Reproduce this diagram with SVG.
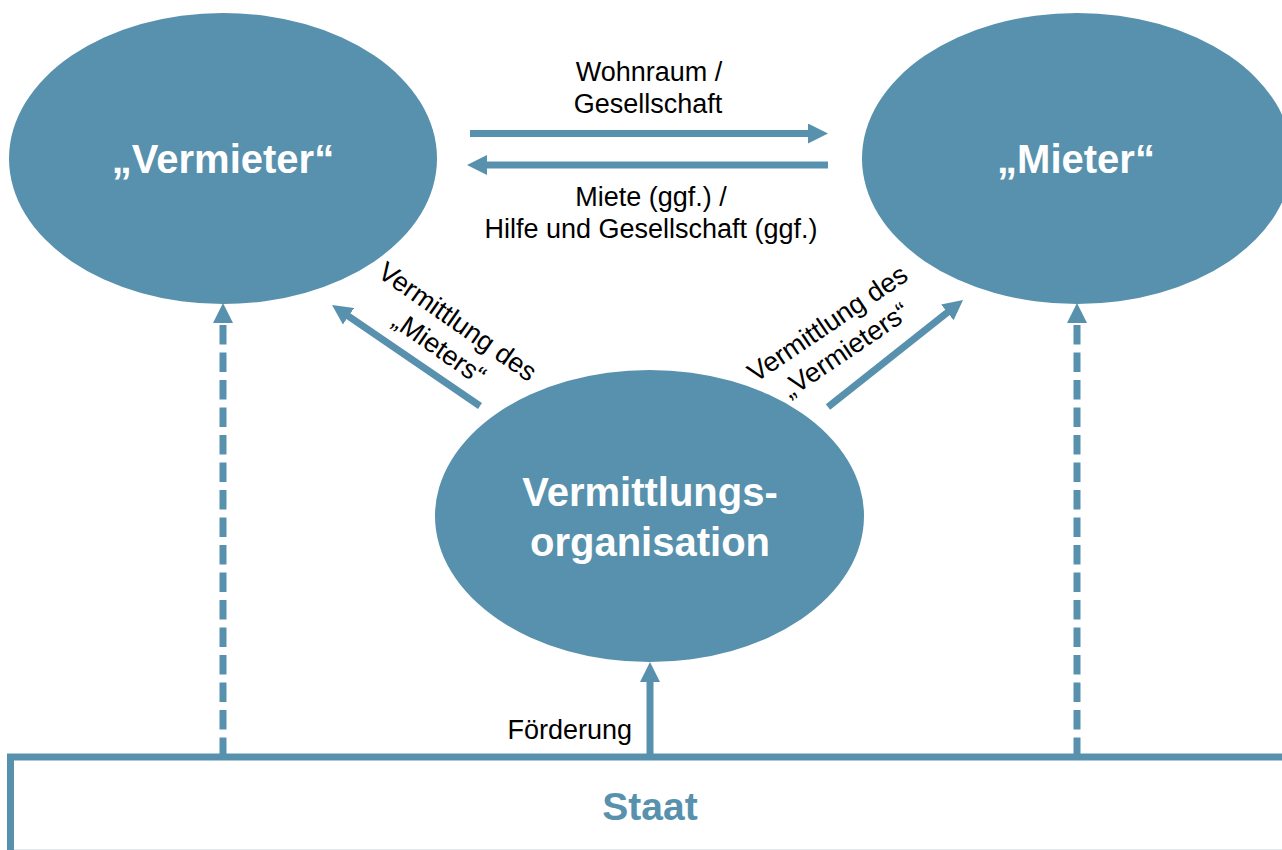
<svg xmlns="http://www.w3.org/2000/svg" width="1282" height="850" viewBox="0 0 1282 850">
<style>
.node{fill:#5791ad}
.ntxt{font-family:"Liberation Sans",Arial,sans-serif;font-weight:bold;font-size:40px;fill:#fff;text-anchor:middle}
.lbl{font-family:"Liberation Sans",Arial,sans-serif;font-size:27px;fill:#000;text-anchor:middle}
.conn{stroke:#5791ad;stroke-width:7;fill:none}
.dash{stroke-dasharray:19.5 8}
.staat{font-family:"Liberation Sans",Arial,sans-serif;font-weight:bold;font-size:39px;fill:#5791ad;text-anchor:middle}
</style>
<defs>
<marker id="ah" viewBox="0 0 20 20" refX="10" refY="10" markerWidth="20" markerHeight="20" markerUnits="userSpaceOnUse" orient="auto">
<path d="M0,0 L20,10 L0,20 z" fill="#5791ad"/>
</marker>
</defs>
<rect width="1282" height="850" fill="#fff"/>

<g id="vermieter">
<ellipse class="node" cx="223" cy="158.5" rx="214" ry="145.5"/>
<text class="ntxt" x="223" y="173">„Vermieter“</text>
</g>
<g id="mieter">
<ellipse class="node" cx="1077" cy="158.5" rx="215" ry="145.5"/>
<text class="ntxt" x="1076" y="173">„Mieter“</text>
</g>
<g id="vermittlungsorganisation">
<ellipse class="node" cx="649.5" cy="516" rx="214.5" ry="146"/>
<text class="ntxt" x="650" y="506">Vermittlungs-</text>
<text class="ntxt" x="650" y="556">organisation</text>
</g>
<g id="staat">
<path d="M10.5,850 V757 H1282" stroke="#5791ad" stroke-width="7" fill="none"/>
<line x1="14" y1="849.5" x2="1282" y2="849.5" stroke="#dfe8ec" stroke-width="1"/>
<text class="staat" x="650" y="820">Staat</text>
</g>

<g id="connectors">
<line class="conn" x1="470" y1="133.5" x2="818" y2="133.5" marker-end="url(#ah)"/>
<line class="conn" x1="828" y1="165" x2="477" y2="165" marker-end="url(#ah)"/>
<line class="conn" x1="480" y1="406" x2="340.3" y2="310.6" marker-end="url(#ah)"/>
<line class="conn" x1="828" y1="407" x2="955.2" y2="306.2" marker-end="url(#ah)"/>
<line class="conn" x1="650" y1="757" x2="650" y2="672" marker-end="url(#ah)"/>
<line class="conn dash" x1="223" y1="757" x2="223" y2="313" marker-end="url(#ah)"/>
<line class="conn dash" x1="1077" y1="757" x2="1077" y2="313" marker-end="url(#ah)"/>
</g>

<g id="labels">
<text class="lbl" x="649" y="81">Wohnraum /</text>
<text class="lbl" x="648" y="113">Gesellschaft</text>
<text class="lbl" x="651" y="206">Miete (ggf.) /</text>
<text class="lbl" x="651" y="238">Hilfe und Gesellschaft (ggf.)</text>
<text class="lbl" x="632" y="739" style="text-anchor:end">Förderung</text>
<g transform="translate(449,334) rotate(35)">
<text class="lbl" x="0" y="-6">Vermittlung des</text>
<text class="lbl" x="0" y="26">„Mieters“</text>
</g>
<g transform="translate(836,336) rotate(-34)">
<text class="lbl" x="0" y="-6">Vermittlung des</text>
<text class="lbl" x="0" y="26">„Vermieters“</text>
</g>
</g>
</svg>
